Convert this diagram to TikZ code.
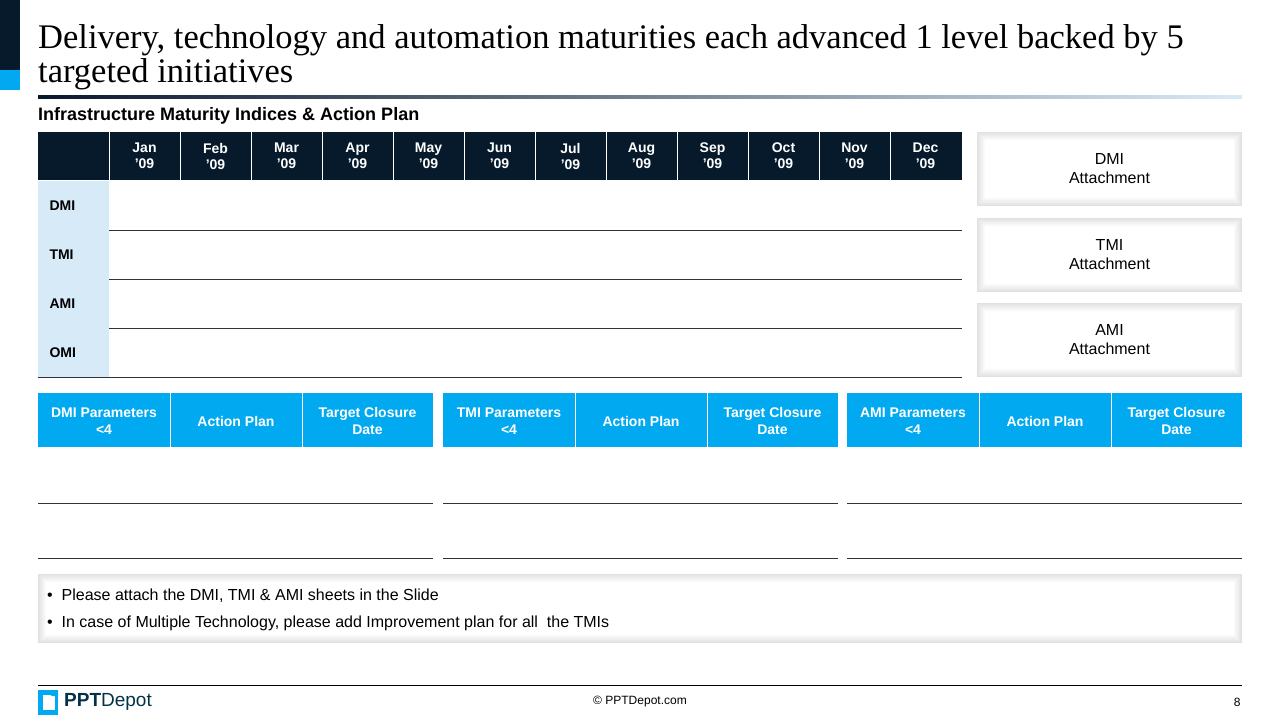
\documentclass[tikz,border=0pt]{standalone}
\usepackage{fontspec}
\setmainfont{Liberation Sans}
\newfontfamily\titlefont{Liberation Serif}
\usetikzlibrary{positioning}
\definecolor{navy}{HTML}{061A2B}
\definecolor{skyblue}{HTML}{00A9F0}
\definecolor{paleblue}{HTML}{D6EAF8}
\tikzstyle{monthcell} = [text=white, font=\fontsize{14}{16}\selectfont\bfseries, align=center]
\tikzstyle{rowlabel} = [font=\fontsize{14}{16}\selectfont\bfseries, anchor=west]
\tikzstyle{headcell} = [text=white, font=\fontsize{14}{17}\selectfont\bfseries, align=center]
\tikzstyle{attach} = [font=\fontsize{16}{19}\selectfont, align=center]
\tikzstyle{rule} = [draw=black!80, line width=0.8pt]
\newcommand{\glowbox}[4]{% x1,y1,x2,y2
    \foreach \k in {0,...,11}
        \fill[black!\fpeval{12-\k}] (#1+0.7*\k,#2+0.7*\k) rectangle (#3-0.7*\k,#4-0.7*\k);
    \fill[white] (#1+8,#2+8) rectangle (#3-8,#4-8);
}
\begin{document}
\begin{tikzpicture}[x=1pt,y=-1pt]
    \useasboundingbox (0,0) rectangle (1280,720);

    % corner bars
    \fill[navy] (0,0) rectangle (20,70);
    \fill[skyblue] (0,70) rectangle (20,90);

    \node (title) [anchor=north west, align=left, inner sep=0pt,
        font=\titlefont\fontsize{34.5}{34}\selectfont] at (38,24)
        {Delivery, technology and automation maturities each advanced 1 level backed by 5\\targeted initiatives};
    \shade[left color=navy, right color=paleblue] (38,95) rectangle (1242,98);
    \node (subtitle) [anchor=west, inner sep=0pt, font=\fontsize{18}{20}\selectfont\bfseries] at (38,116)
        {Infrastructure Maturity Indices \& Action Plan};

    % month header
    \fill[navy] (38,132) rectangle (962,180);
    \foreach \m [count=\i] in {Jan,Feb,Mar,Apr,May,Jun,Jul,Aug,Sep,Oct,Nov,Dec} {
        \draw[white, line width=1pt] (38+71*\i,132) -- (38+71*\i,180);
        \node (m\i) [monthcell] at (73.5+71*\i,156) {\m\\’09};
    }

    % index rows
    \foreach \r [count=\i] in {DMI,TMI,AMI,OMI} {
        \fill[paleblue] (38,132+49*\i) rectangle (109,181+49*\i);
        \draw[rule] (38,181+49*\i) -- (962,181+49*\i);
        \node (r\i) [rowlabel] at (46,157+49*\i) {\r};
    }

    % attachment boxes
    \foreach \a/\y [count=\i] in {DMI/132,TMI/218,AMI/303} {
        \glowbox{977}{\y}{1242}{\y+74}
        \node (att\i) [attach] at (1109.5,\y+37) {\a\\Attachment};
    }

    % parameter tables
    \foreach \p/\x [count=\i] in {DMI/38,TMI/443,AMI/847} {
        \fill[skyblue] (\x,393) rectangle (\x+395,447);
        \draw[white, line width=1pt] (\x+132,393) -- (\x+132,447);
        \draw[white, line width=1pt] (\x+264,393) -- (\x+264,447);
        \node (par\i) [headcell] at (\x+66,421) {\p{} Parameters\\<4};
        \node (act\i) [headcell] at (\x+198,421) {Action Plan};
        \node (tgt\i) [headcell] at (\x+329.5,421) {Target Closure\\Date};
        \draw[rule] (\x,503) -- (\x+395,503);
        \draw[rule] (\x,558) -- (\x+395,558);
    }

    % notes
    \glowbox{38}{574}{1242}{643}
    \node (note1) [anchor=west, inner sep=0pt, font=\fontsize{16}{18}\selectfont] at (47,596)
        {\textbullet\ \ Please attach the DMI, TMI \& AMI sheets in the Slide};
    \node (note2) [anchor=west, inner sep=0pt, font=\fontsize{16}{18}\selectfont] at (47,623)
        {\textbullet\ \ In case of Multiple Technology, please add Improvement plan for all\ \ the TMIs};

    % footer
    \draw[black, line width=1pt] (38,685) -- (1242,685);
    \fill[skyblue] (38,690) rectangle (58,715);
    \fill[white] (43,695) rectangle (55,710);
    \fill[skyblue] (44,690) -- (58,690) -- (58,696) -- (52,696) -- cycle;
    \node (logo) [anchor=west, inner sep=0pt, text=navy!60!skyblue!60!black, font=\fontsize{19}{20}\selectfont] at (64,702)
        {\textbf{PPT}Depot};
    \node (copy) [font=\fontsize{12}{14}\selectfont] at (640,702) {© PPTDepot.com};
    \node (page) [anchor=east, font=\fontsize{12}{14}\selectfont] at (1244,702) {8};
\end{tikzpicture}
\end{document}
